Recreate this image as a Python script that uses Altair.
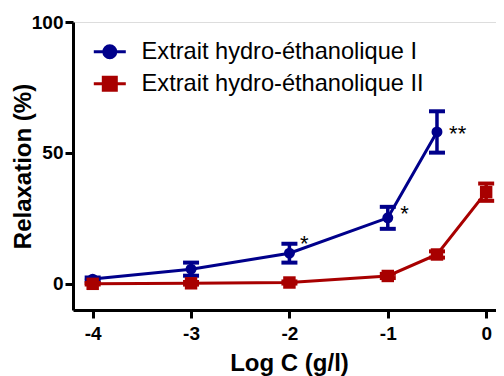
import altair as alt
import pandas as pd

series_names = ["Extrait hydro-éthanolique I", "Extrait hydro-éthanolique II"]
x_I = [-4, -3, -2, -1, -0.5]
y_I = [1.8, 5.6, 11.7, 25.2, 58.0]
err_I = [0.6, 2.5, 3.6, 4.2, 7.9]
x_II = [-4, -3, -2, -1, -0.5, 0]
y_II = [0.0, 0.2, 0.5, 3.0, 11.2, 35.0]
err_II = [0.3, 0.5, 0.4, 0.8, 1.2, 3.3]
star_x = [-1.85, -0.83, -0.29]
star_y = [17.6, 29.0, 59.5]
star_text = ["*", "*", "**"]
x_ticks = [-4, -3, -2, -1, 0]
y_ticks = [0, 50, 100]
colors = ["#00008B", "#A80000"]

FONT = "Liberation Sans"

rows = []
for xs, ys, es, name in [(x_I, y_I, err_I, series_names[0]), (x_II, y_II, err_II, series_names[1])]:
    for xv, yv, ev in zip(xs, ys, es):
        rows.append({"series": name, "x": xv, "y": yv, "lo": yv - ev, "hi": yv + ev})
df = pd.DataFrame(rows)
stars = pd.DataFrame({"x": star_x, "y": star_y, "t": star_text})

xscale = alt.Scale(domain=[-4.2, 0.1], nice=False, zero=False)
yscale = alt.Scale(domain=[-10, 100], nice=False, zero=False)

xaxis = alt.Axis(values=x_ticks, labelExpr="'' + datum.value", title="Log C (g/l)", grid=False,
                 labelFont=FONT, labelFontSize=19, labelFontWeight="bold", labelColor="black",
                 titleFont=FONT, titleFontSize=24, titleFontWeight="bold", titleColor="black",
                 domainColor="black", domainWidth=3, tickColor="black", tickWidth=3, tickSize=8,
                 labelPadding=6, titlePadding=8, titleX=216)
yaxis = alt.Axis(values=y_ticks, labelExpr="'' + datum.value", title="Relaxation (%)", grid=False,
                 labelFont=FONT, labelFontSize=19, labelFontWeight="bold", labelColor="black",
                 titleFont=FONT, titleFontSize=24, titleFontWeight="bold", titleColor="black",
                 domainColor="black", domainWidth=3, tickColor="black", tickWidth=3, tickSize=8,
                 labelPadding=2, titlePadding=-4)

X = alt.X("x:Q", scale=xscale, axis=xaxis)
Y = alt.Y("y:Q", scale=yscale, axis=yaxis)
color = alt.Color("series:N", scale=alt.Scale(domain=series_names, range=colors), legend=None)

def series_layers(name, shape, size):
    base = alt.Chart(df).transform_filter(alt.datum.series == name)
    line = base.mark_line(strokeWidth=3).encode(x=X, y=Y, color=color)
    rule = base.mark_rule(strokeWidth=3.5).encode(
        x=X, y=alt.Y("lo:Q", scale=yscale, axis=yaxis), y2="hi:Q", color=color)
    cap_lo = base.mark_tick(orient="horizontal", size=16, thickness=4, opacity=1).encode(
        x=X, y=alt.Y("lo:Q", scale=yscale, axis=yaxis), color=color)
    cap_hi = base.mark_tick(orient="horizontal", size=16, thickness=4, opacity=1).encode(
        x=X, y=alt.Y("hi:Q", scale=yscale, axis=yaxis), color=color)
    pts = base.mark_point(shape=shape, filled=True, size=size, opacity=1).encode(
        x=X, y=Y, color=color)
    return [line, rule, cap_lo, cap_hi, pts]

path_circle = "M-3.2,0L3.2,0M-1.2,0A1.2,1.2,0,1,1,1.2,0A1.2,1.2,0,1,1,-1.2,0Z"
path_square = "M-3.2,0L3.2,0M-1.3,-1.3L1.3,-1.3L1.3,1.3L-1.3,1.3Z"

leg = alt.Legend(title=None, orient="none", legendX=25, legendY=18, padding=0,
                 labelFont=FONT, labelFontSize=23.6, labelColor="black",
                 symbolSize=100, symbolStrokeWidth=3, labelOffset=20, rowPadding=7,
                 symbolOpacity=1, labelLimit=400)
legend_layer = alt.Chart(df).mark_point(
    filled=True, size=0, strokeWidth=0, opacity=1).encode(
    x=X, y=Y,
    fill=alt.Fill("series:N", scale=alt.Scale(domain=series_names, range=colors), legend=leg),
    stroke=alt.Stroke("series:N", scale=alt.Scale(domain=series_names, range=colors), legend=leg),
    shape=alt.Shape("series:N", scale=alt.Scale(domain=series_names, range=[path_circle, path_square]), legend=leg),
)

star_layer = alt.Chart(stars).mark_text(font=FONT, fontSize=22, color="black",
                                        align="center", baseline="middle", dy=6).encode(
    x=alt.X("x:Q", scale=xscale, axis=xaxis), y=alt.Y("y:Q", scale=yscale, axis=yaxis), text="t:N")

layers = series_layers(series_names[0], "circle", 120) + series_layers(series_names[1], "square", 155)
chart = alt.layer(legend_layer, *layers, star_layer).properties(
    width=423, height=288,
    padding={"left": 65, "top": 14, "right": 0, "bottom": 66},
    autosize=alt.AutoSizeParams(type="none"),
).configure_view(stroke=None).configure(background="white")

chart.save("out.html", embed_options={"renderer": "svg", "actions": False})
